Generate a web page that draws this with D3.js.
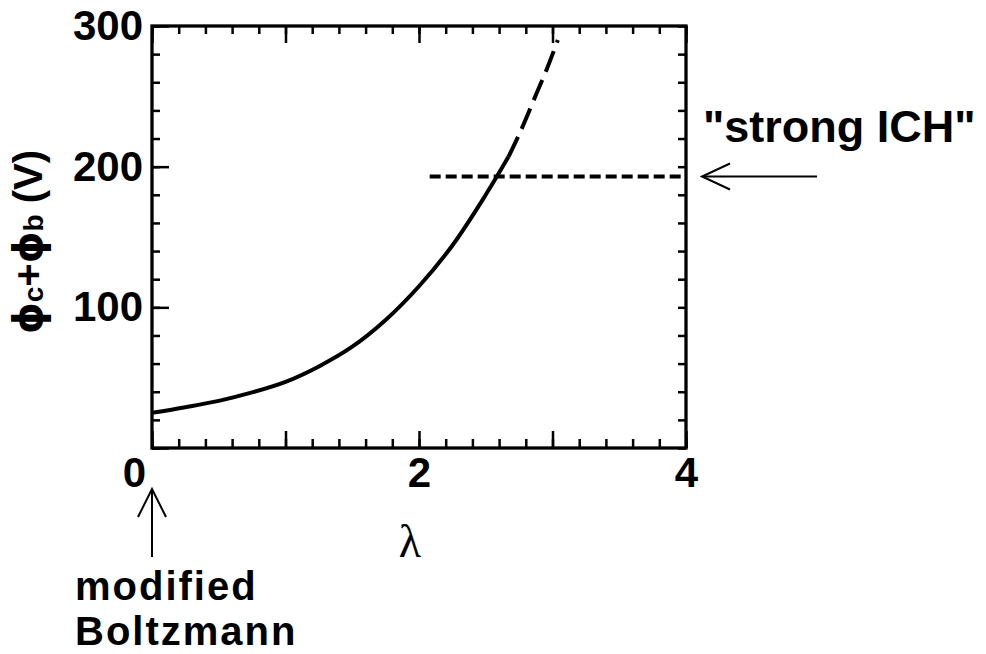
<!DOCTYPE html>
<html>
<head>
<meta charset="utf-8">
<script src="https://cdn.jsdelivr.net/npm/d3@7"></script>
<style>
  html, body { margin: 0; padding: 0; background: #fff; }
  svg { display: block; }
  text { font-family: "Liberation Sans", Arial, Helvetica, sans-serif; font-weight: bold; fill: #000; }
</style>
</head>
<body>
<svg id="chart" width="986" height="654"></svg>
<script>
// Potential sum phi_c + phi_b versus lambda
const lambdaSolid = [0, 0.25, 0.5, 0.75, 1.0, 1.25, 1.5, 1.75, 2.0, 2.25, 2.5, 2.67];
const phiSolid    = [25, 29, 33.5, 39.5, 47, 58, 72, 91, 115, 144, 180, 207];
const lambdaDashed = [2.67, 2.76, 2.88, 2.96, 3.04];
const phiDashed    = [207, 225, 252, 270, 290];

// "strong ICH" threshold level
const ichLevel = 193;
const ichStart = 2.08;
const ichEnd = 4;

// Axis ticks
const xMajorTicks = [0, 1, 2, 3, 4];
const xLabeled = [0, 2, 4];
const xMinorTicks = d3.range(0, 4.0001, 0.2);
const yMajorTicks = [0, 100, 200, 300];
const yLabeled = [100, 200, 300];
const yMinorTicks = d3.range(0, 300.001, 20);

const svg = d3.select("#chart");
const x = d3.scaleLinear().domain([0, 4]).range([152, 686]);
const y = d3.scaleLinear().domain([0, 300]).range([448, 26]);

const fmt = v => String(Math.round(v));

// Each tick set gets its own group so the axis joins do not replace each other
const axisGroup = (tx, ty) => svg.append("g").attr("transform", `translate(${tx},${ty})`);

// Bottom axis (ticks point inward)
axisGroup(0, y(0)).call(d3.axisBottom(x).tickValues(xMinorTicks).tickSize(-9).tickFormat(""));
const gB = axisGroup(0, y(0)).call(d3.axisBottom(x).tickValues(xMajorTicks).tickSize(-17).tickPadding(9)
  .tickFormat(v => xLabeled.includes(v) ? fmt(v) : ""));
// Top axis
axisGroup(0, y(300)).call(d3.axisTop(x).tickValues(xMinorTicks).tickSize(-8).tickFormat(""));
axisGroup(0, y(300)).call(d3.axisTop(x).tickValues(xMajorTicks).tickSize(-17).tickFormat(""));
// Left axis
axisGroup(x(0), 0).call(d3.axisLeft(y).tickValues(yMinorTicks).tickSize(-8).tickFormat(""));
axisGroup(x(0), 0).call(d3.axisLeft(y).tickValues(yMajorTicks).tickSize(-17).tickPadding(9)
  .tickFormat(v => yLabeled.includes(v) ? fmt(v) : ""));
// Right axis
axisGroup(x(4), 0).call(d3.axisRight(y).tickValues(yMinorTicks).tickSize(-8).tickFormat(""));

svg.selectAll(".domain").remove();
svg.selectAll(".tick line").attr("stroke", "#000").attr("stroke-width", 2.5);
svg.selectAll(".tick text")
  .style("font-family", "'Liberation Sans', Arial, sans-serif")
  .style("font-weight", "bold")
  .style("font-size", "42px")
  .attr("fill", "#000");
// Shift the origin label clear of the corner
gB.selectAll(".tick text").filter(d => d === 0).attr("x", -18);

// Frame
svg.append("rect")
  .attr("x", x(0)).attr("y", y(300))
  .attr("width", x(4) - x(0)).attr("height", y(0) - y(300))
  .attr("fill", "none").attr("stroke", "#000").attr("stroke-width", 3.3);

// Curve
const line = d3.line().x(d => x(d[0])).y(d => y(d[1])).curve(d3.curveCatmullRom.alpha(0.5));
svg.append("path")
  .datum(d3.zip(lambdaSolid, phiSolid))
  .attr("d", line)
  .attr("fill", "none").attr("stroke", "#000").attr("stroke-width", 4);
svg.append("path")
  .datum(d3.zip(lambdaDashed, phiDashed))
  .attr("d", line)
  .attr("fill", "none").attr("stroke", "#000").attr("stroke-width", 4)
  .attr("stroke-dasharray", "22,9");

// Threshold line
svg.append("line")
  .attr("x1", x(ichStart)).attr("x2", x(ichEnd))
  .attr("y1", y(ichLevel)).attr("y2", y(ichLevel))
  .attr("stroke", "#000").attr("stroke-width", 4)
  .attr("stroke-dasharray", "11,5");

// Axis titles
svg.append("text")
  .attr("x", 410).attr("y", 557)
  .attr("text-anchor", "middle")
  .style("font-family", "'Liberation Serif', 'Times New Roman', serif")
  .style("font-weight", "normal")
  .style("font-size", "46px")
  .text("λ");

const yTitle = svg.append("text")
  .attr("transform", "translate(42,242) rotate(-90)")
  .attr("text-anchor", "middle")
  .style("font-size", "40px");
yTitle.append("tspan").style("font-family", "'DejaVu Sans', sans-serif").text("ϕ");
yTitle.append("tspan").style("font-size", "28px").attr("dy", 1).text("c");
yTitle.append("tspan").attr("dy", -1).text("+");
yTitle.append("tspan").style("font-family", "'DejaVu Sans', sans-serif").text("ϕ");
yTitle.append("tspan").style("font-size", "28px").attr("dy", 1).text("b");
yTitle.append("tspan").attr("dy", -1).text(" (V)");

// Annotations
const arrow = (x1, y1, x2, y2, hx1, hy1, hx2, hy2) => {
  const g = svg.append("g").attr("stroke", "#000").attr("stroke-width", 2).attr("fill", "none");
  g.append("line").attr("x1", x1).attr("y1", y1).attr("x2", x2).attr("y2", y2);
  g.append("polyline").attr("points", `${hx1},${hy1} ${x2},${y2} ${hx2},${hy2}`);
};
arrow(817, y(ichLevel), 702, y(ichLevel), 730, y(ichLevel) - 13, 730, y(ichLevel) + 13);
arrow(x(0), 557, x(0), 489, x(0) - 14, 517, x(0) + 14, 517);

svg.append("text").attr("x", 703).attr("y", 142)
  .style("font-size", "45px").text('"strong ICH"');

const note = svg.append("text").attr("x", 75).attr("y", 600)
  .style("font-size", "40px").style("letter-spacing", "2px");
note.append("tspan").attr("x", 75).text("modified");
note.append("tspan").attr("x", 75).attr("dy", 45).text("Boltzmann");
</script>
</body>
</html>
